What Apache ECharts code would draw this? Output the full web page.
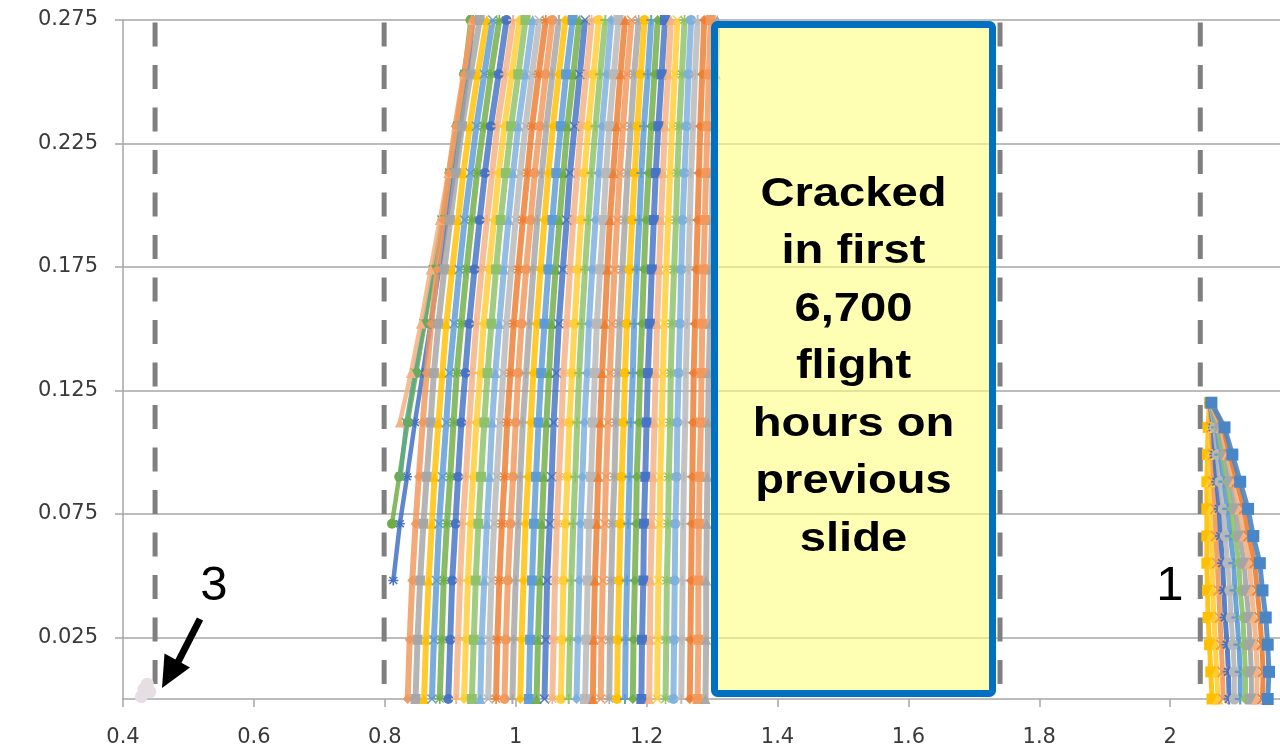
<!DOCTYPE html>
<html><head><meta charset="utf-8">
<script src="https://cdn.jsdelivr.net/npm/echarts@6/dist/echarts.min.js"></script>
<style>html,body{margin:0;padding:0;background:#fff;overflow:hidden}#c{width:1280px;height:749px}</style>
</head><body><div id="c"></div><script>
// ---- axis ticks ----
const xTicks = [0.4, 0.6, 0.8, 1.0, 1.2, 1.4, 1.6, 1.8, 2.0];
const yTicks = [0.025, 0.075, 0.125, 0.175, 0.225, 0.275];
// ---- dashed reference lines (x positions) ----
const dashX = [0.449, 0.799, 1.740, 2.046];
// ---- main band (group 2): x values at shared y levels ----
const bandLevels = [0, 0.024, 0.048, 0.071, 0.090, 0.112, 0.132, 0.152, 0.174, 0.194, 0.213, 0.232, 0.253, 0.275];
const bandPartial = [
  [null,null,0.813,0.823,0.834,0.846,0.858,0.870,0.883,0.895,0.906,0.916,0.926,0.935],
  [null,null,null,0.811,0.822,0.835,0.848,0.861,0.875,0.888,0.899,0.910,0.921,0.931],
  [null,null,null,null,0.824,0.833,0.846,0.860,0.874,0.887,0.899,0.911,0.922,0.934],
  [null,null,null,null,null,0.823,0.840,0.855,0.870,0.884,0.897,0.909,0.921,0.933]
];
const bandFull = [
  [0.835,0.838,0.842,0.847,0.852,0.858,0.864,0.871,0.880,0.889,0.898,0.908,0.921,0.935],
  [0.847,0.850,0.854,0.859,0.864,0.870,0.875,0.882,0.891,0.900,0.909,0.918,0.931,0.945],
  [0.860,0.863,0.867,0.872,0.876,0.882,0.888,0.894,0.903,0.912,0.920,0.930,0.942,0.956],
  [0.872,0.875,0.879,0.883,0.888,0.894,0.899,0.906,0.914,0.922,0.931,0.940,0.952,0.965],
  [0.884,0.887,0.890,0.895,0.900,0.905,0.910,0.917,0.925,0.933,0.941,0.951,0.962,0.975],
  [0.897,0.900,0.903,0.908,0.912,0.917,0.923,0.929,0.937,0.945,0.953,0.962,0.974,0.986],
  [0.909,0.912,0.915,0.919,0.924,0.929,0.934,0.940,0.948,0.956,0.964,0.972,0.984,0.996],
  [0.921,0.924,0.927,0.931,0.935,0.940,0.946,0.951,0.959,0.967,0.974,0.983,0.994,1.006],
  [0.933,0.936,0.939,0.943,0.947,0.952,0.957,0.963,0.970,0.977,0.985,0.993,1.004,1.015],
  [0.946,0.948,0.952,0.956,0.960,0.964,0.969,0.975,0.982,0.989,0.996,1.004,1.015,1.026],
  [0.958,0.960,0.963,0.967,0.971,0.976,0.981,0.986,0.993,1.000,1.007,1.015,1.025,1.036],
  [0.970,0.972,0.975,0.979,0.983,0.987,0.992,0.997,1.004,1.011,1.018,1.025,1.035,1.046],
  [0.983,0.985,0.988,0.992,0.996,1.000,1.004,1.009,1.016,1.023,1.029,1.037,1.046,1.056],
  [0.995,0.997,1.000,1.004,1.007,1.011,1.016,1.021,1.027,1.033,1.040,1.047,1.056,1.066],
  [1.007,1.009,1.012,1.015,1.019,1.023,1.027,1.032,1.038,1.044,1.050,1.057,1.066,1.076],
  [1.020,1.022,1.025,1.028,1.031,1.035,1.039,1.044,1.050,1.056,1.062,1.069,1.077,1.087],
  [1.032,1.034,1.037,1.040,1.043,1.047,1.051,1.055,1.061,1.067,1.073,1.079,1.088,1.097],
  [1.044,1.046,1.048,1.052,1.055,1.058,1.062,1.066,1.072,1.078,1.083,1.090,1.098,1.106],
  [1.056,1.058,1.060,1.063,1.066,1.070,1.073,1.078,1.083,1.088,1.094,1.100,1.108,1.116],
  [1.069,1.071,1.073,1.076,1.079,1.082,1.086,1.090,1.095,1.100,1.105,1.111,1.119,1.127],
  [1.081,1.083,1.085,1.088,1.091,1.094,1.097,1.101,1.106,1.111,1.116,1.122,1.129,1.137],
  [1.093,1.095,1.097,1.099,1.102,1.105,1.109,1.112,1.117,1.122,1.127,1.132,1.139,1.146],
  [1.106,1.108,1.110,1.112,1.115,1.118,1.121,1.124,1.129,1.134,1.138,1.143,1.150,1.157],
  [1.118,1.119,1.121,1.124,1.126,1.129,1.132,1.136,1.140,1.144,1.149,1.154,1.160,1.167],
  [1.130,1.131,1.133,1.136,1.138,1.141,1.144,1.147,1.151,1.155,1.159,1.164,1.170,1.177],
  [1.143,1.144,1.146,1.148,1.151,1.153,1.156,1.159,1.163,1.167,1.171,1.176,1.181,1.188],
  [1.155,1.156,1.158,1.160,1.162,1.165,1.167,1.170,1.174,1.178,1.182,1.186,1.191,1.197],
  [1.167,1.168,1.170,1.172,1.174,1.176,1.179,1.181,1.185,1.189,1.192,1.196,1.202,1.207],
  [1.179,1.180,1.182,1.184,1.185,1.188,1.190,1.193,1.196,1.199,1.203,1.207,1.212,1.217],
  [1.192,1.193,1.195,1.196,1.198,1.200,1.202,1.205,1.208,1.211,1.214,1.218,1.223,1.228],
  [1.204,1.205,1.206,1.208,1.210,1.212,1.214,1.216,1.219,1.222,1.225,1.228,1.233,1.237],
  [1.216,1.217,1.218,1.220,1.221,1.223,1.225,1.227,1.230,1.233,1.236,1.239,1.243,1.247],
  [1.229,1.230,1.231,1.233,1.234,1.236,1.237,1.239,1.242,1.245,1.247,1.250,1.254,1.258],
  [1.241,1.242,1.243,1.244,1.246,1.247,1.249,1.251,1.253,1.255,1.258,1.261,1.264,1.268],
  [1.253,1.254,1.255,1.256,1.257,1.259,1.260,1.262,1.264,1.266,1.268,1.271,1.274,1.278],
  [1.266,1.267,1.268,1.269,1.270,1.271,1.272,1.274,1.276,1.278,1.280,1.282,1.285,1.288],
  [1.278,1.279,1.279,1.280,1.281,1.283,1.284,1.285,1.287,1.289,1.291,1.293,1.295,1.298],
  [1.290,1.291,1.291,1.292,1.293,1.294,1.295,1.297,1.298,1.300,1.301,1.303,1.306,1.308]
];
// ---- right cluster (group 1) ----
const leafLevels = [0, 0.011, 0.022, 0.033, 0.044, 0.055, 0.066, 0.077, 0.088, 0.099, 0.110, 0.120];
const leafSeries = [
  [2.064,2.062,2.060,2.058,2.057,2.056,2.056,2.056,2.056,2.057,2.058,2.060],
  [2.073,2.071,2.069,2.067,2.065,2.064,2.063,2.062,2.061,2.061,2.061,2.060],
  [2.081,2.080,2.078,2.076,2.074,2.072,2.070,2.069,2.066,2.065,2.063,2.061],
  [2.090,2.089,2.087,2.084,2.082,2.080,2.077,2.075,2.071,2.068,2.066,2.061],
  [2.098,2.098,2.096,2.093,2.091,2.088,2.084,2.081,2.076,2.072,2.068,2.061],
  [2.107,2.107,2.105,2.102,2.099,2.097,2.092,2.088,2.082,2.076,2.071,2.062],
  [2.115,2.115,2.113,2.111,2.107,2.105,2.099,2.094,2.087,2.080,2.073,2.062],
  [2.124,2.124,2.122,2.120,2.116,2.113,2.106,2.100,2.092,2.084,2.076,2.062],
  [2.132,2.133,2.131,2.128,2.124,2.121,2.113,2.106,2.097,2.087,2.078,2.062],
  [2.141,2.142,2.140,2.137,2.133,2.129,2.120,2.113,2.102,2.091,2.081,2.063],
  [2.149,2.151,2.149,2.146,2.141,2.137,2.127,2.119,2.107,2.095,2.083,2.063]
];
// ---- small cluster (group 3) ----
const blobX = [0.428, 0.432, 0.437, 0.441];
const blobY = [0.001, 0.004, 0.006, 0.003];
// ---- annotation texts ----
const boxLines = ['Cracked', 'in first', '6,700', 'flight', 'hours on', 'previous', 'slide'];
const label3 = '3';
const label1 = '1';

const palette = ['#F1975A','#A5A5A5','#FFC000','#5B9BD5','#70AD47','#4472C4','#F4B183','#FFCD33','#8CC168','#7CAFDD','#B7B7B7','#ED7D31'];
const SX = 'path://M1,0L5,4L9,0L10,1L6,5L10,9L9,10L5,6L1,10L0,9L4,5L0,1Z';
const SPLUS = 'path://M4,0H6V4H10V6H6V10H4V6H0V4H4Z';
const SSTAR = 'path://M4.2,0H5.8V3.4L8.4,1L9.5,2.1L6.9,4.3H10V5.7H6.9L9.5,7.9L8.4,9L5.8,6.6V10H4.2V6.6L1.6,9L0.5,7.9L3.1,5.7H0V4.3H3.1L0.5,2.1L1.6,1L4.2,3.4Z';
const symbols = ['diamond','rect','triangle',SX,SSTAR,'circle',SPLUS];

function pairs(xs, ys) {
  const out = [];
  xs.forEach((x, i) => { if (x != null) out.push([x, ys[i]]); });
  return out;
}

const series = [];
dashX.forEach(dx => {
  series.push({
    type: 'line', data: [[dx, 0], [dx, 0.275]], symbol: 'none', silent: true, z: 1,
    lineStyle: { color: '#7F7F7F', width: 5, type: [24, 18.5], dashOffset: 27.5 }
  });
});
const partialColors = ['#4472C4','#70AD47','#5BA88A','#F4B183'];
const partialSymbols = [SSTAR,'circle',SX,'triangle'];
bandPartial.forEach((xs, i) => {
  series.push({
    type: 'line', data: pairs(xs, bandLevels), symbol: partialSymbols[i], symbolSize: 10,
    lineStyle: { color: partialColors[i], width: 4.5, opacity: 0.85 },
    itemStyle: { color: partialColors[i] }
  });
});
bandFull.forEach((xs, i) => {
  const c = palette[i % palette.length];
  series.push({
    type: 'line', data: pairs(xs, bandLevels), symbol: symbols[i % symbols.length], symbolSize: 10,
    lineStyle: { color: c, width: 6, opacity: 0.82 },
    itemStyle: { color: c, opacity: 0.95 }
  });
});
leafSeries.forEach((xs, i) => {
  const last = i === leafSeries.length - 1;
  const c = last ? '#4A86C5' : palette[(i * 5 + 2) % palette.length];
  series.push({
    type: 'line', data: pairs(xs, leafLevels), symbol: last ? 'rect' : symbols[(i + 1) % symbols.length],
    symbolSize: last ? 12 : 11,
    lineStyle: { color: c, width: 5, opacity: 0.9 },
    itemStyle: { color: c }
  });
});
series.push({
  type: 'line', data: pairs(blobX, blobY), symbol: 'circle', symbolSize: 13,
  lineStyle: { color: '#E6DEE2', width: 6 }, itemStyle: { color: '#E6DEE2' }
});

const axisGray = '#A6A6A6';
const chart = echarts.init(document.getElementById('c'), null, { renderer: 'canvas' });
chart.setOption({
  animation: false,
  backgroundColor: '#ffffff',
  grid: { left: 123, top: 20, right: 0, bottom: 50 },
  xAxis: {
    type: 'value', min: 0.4, max: 2.1678,
    axisLine: { onZero: false, lineStyle: { color: axisGray, width: 1.5 } },
    axisTick: { show: true, customValues: xTicks, length: 8, lineStyle: { color: axisGray, width: 1.5 } },
    axisLabel: { customValues: xTicks, formatter: v => String(+(+v).toFixed(1)), fontFamily: 'DejaVu Sans', fontSize: 21, color: '#3A3A3A', margin: 28 },
    splitLine: { show: false }
  },
  yAxis: {
    type: 'value', min: 0, max: 0.275,
    axisLine: { show: true, lineStyle: { color: axisGray, width: 1.5 } },
    axisTick: { show: true, customValues: yTicks, length: 8, lineStyle: { color: axisGray, width: 1.5 } },
    axisLabel: { customValues: yTicks, formatter: v => (+v).toFixed(3), fontFamily: 'DejaVu Sans', fontSize: 21, color: '#3A3A3A', margin: 25 },
    splitLine: { show: true, lineStyle: { color: axisGray, width: 1.5 } }
  },
  series: series,
  graphic: [
    { type: 'rect', z: 100, shape: { x: 714.5, y: 24.5, width: 278, height: 669, r: 3 },
      style: { fill: 'rgba(255,255,128,0.6)', stroke: '#0070C0', lineWidth: 7 } },
    { type: 'text', z: 101, x: 853.5, y: 367, scaleX: 1.15,
      style: { text: boxLines.join('\n'), fontFamily: 'Liberation Sans', fontWeight: 'bold', fontSize: 41,
               lineHeight: 57.5, fill: '#000', align: 'center', verticalAlign: 'middle' } },
    { type: 'text', z: 101, x: 214, y: 586,
      style: { text: label3, fontFamily: 'Liberation Sans', fontSize: 49, fill: '#000', align: 'center', verticalAlign: 'middle' } },
    { type: 'text', z: 101, x: 1170, y: 586,
      style: { text: label1, fontFamily: 'Liberation Sans', fontSize: 49, fill: '#000', align: 'center', verticalAlign: 'middle' } },
    { type: 'line', z: 101, shape: { x1: 200, y1: 619, x2: 178, y2: 662 }, style: { stroke: '#000', lineWidth: 7 } },
    { type: 'polygon', z: 101, shape: { points: [[162, 688], [164.5, 653.5], [190, 667.5]] }, style: { fill: '#000' } }
  ]
});
</script></body></html>
